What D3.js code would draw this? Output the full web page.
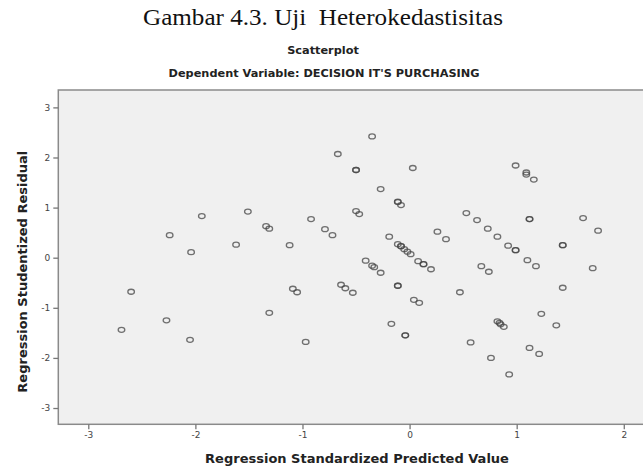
<!DOCTYPE html>
<html>
<head>
<meta charset="utf-8">
<script src="https://cdn.jsdelivr.net/npm/d3@7"></script>
<style>
  html, body { margin: 0; padding: 0; background: #ffffff; }
  svg { display: block; }
</style>
</head>
<body>
<script>
// ---- data ----
const predictedValues = [
  -2.69, -2.60, -2.27, -2.24, -2.05, -2.04, -1.94, -1.62, -1.51,
  -1.34, -1.31, -1.31, -1.12, -1.09, -1.05, -0.97, -0.92, -0.79, -0.72,
  -0.67, -0.64, -0.60, -0.53, -0.50, -0.50, -0.50, -0.47, -0.41, -0.35,
  -0.35, -0.33, -0.27, -0.27, -0.19, -0.17, -0.11, -0.11, -0.08,
  -0.11, -0.08, -0.08, -0.05, -0.02, 0.01, -0.11, -0.11, -0.04, -0.04,
  0.03, 0.04, 0.08, 0.09, 0.13, 0.13, 0.20, 0.26, 0.34,
  0.47, 0.53, 0.57, 0.63, 0.67, 0.73, 0.74, 0.76, 0.82, 0.84, 0.85, 0.88,
  0.82, 0.92, 0.93, 0.99, 0.99, 0.99, 1.09, 1.09, 1.10, 1.12, 1.12,
  1.12, 1.16, 1.18, 1.21, 1.23, 1.37, 1.43, 1.43, 1.43, 1.62, 1.71, 1.76
];
const residualValues = [
  -1.44, -0.68, -1.25, 0.45, -1.64, 0.11, 0.83, 0.26, 0.92,
  0.63, 0.58, -1.10, 0.25, -0.62, -0.69, -1.68, 0.77, 0.57, 0.45,
  2.07, -0.54, -0.61, -0.70, 1.75, 1.75, 0.93, 0.87, -0.06, 2.42,
  -0.16, -0.19, -0.30, 1.37, 0.42, -1.32, 1.11, 1.12, 1.05,
  0.27, 0.23, 0.23, 0.17, 0.12, 0.07, -0.56, -0.56, -1.55, -1.55,
  1.79, -0.84, -0.07, -0.90, -0.13, -0.13, -0.23, 0.52, 0.37,
  -0.69, 0.89, -1.69, 0.75, -0.17, 0.58, -0.28, -2.00, -1.27, -1.30, -1.33, -1.38,
  0.42, 0.24, -2.33, 0.15, 0.15, 1.84, 1.70, 1.66, -0.05, 0.77, 0.77,
  -1.80, 1.56, -0.17, -1.92, -1.12, -1.35, 0.25, 0.25, -0.60, 0.79, -0.21, 0.54
];
const xTickValues = [-3, -2, -1, 0, 1, 2];
const yTickValues = [-3, -2, -1, 0, 1, 2, 3];

const pageTitle = "Gambar 4.3. Uji  Heterokedastisitas";
const chartTitle = "Scatterplot";
const chartSubtitle = "Dependent Variable: DECISION IT'S PURCHASING";
const xAxisTitle = "Regression Standardized Predicted Value";
const yAxisTitle = "Regression Studentized Residual";

// ---- layout ----
const W = 643, H = 467;
const plot = { left: 58.3, right: 645.2, top: 90, bottom: 424.3 };

const svg = d3.select("body").append("svg")
  .attr("width", W).attr("height", H);

const x = d3.scaleLinear().domain([-3.28, 2.2]).range([plot.left, plot.right]);
const y = d3.scaleLinear().domain([-3.325, 3.347]).range([plot.bottom, plot.top]);

// titles
svg.append("text")
  .attr("x", 323).attr("y", 25)
  .attr("text-anchor", "middle")
  .attr("font-family", "'Liberation Serif', 'Times New Roman', serif")
  .attr("font-size", 23)
  .attr("fill", "#111")
  .style("white-space", "pre")
  .attr("textLength", 360).attr("lengthAdjust", "spacingAndGlyphs")
  .text(pageTitle);

svg.append("text")
  .attr("x", 323).attr("y", 54)
  .attr("text-anchor", "middle")
  .attr("font-family", "'DejaVu Sans', sans-serif")
  .attr("font-weight", "bold")
  .attr("font-size", 11.3)
  .attr("fill", "#222")
  .text(chartTitle);

svg.append("text")
  .attr("x", 324).attr("y", 77)
  .attr("text-anchor", "middle")
  .attr("font-family", "'DejaVu Sans', sans-serif")
  .attr("font-weight", "bold")
  .attr("font-size", 11.3)
  .attr("fill", "#222")
  .text(chartSubtitle);

// plot background + frame
svg.append("rect")
  .attr("x", plot.left).attr("y", plot.top)
  .attr("width", plot.right - plot.left).attr("height", plot.bottom - plot.top)
  .attr("fill", "#f0f0f0")
  .attr("stroke", "#8a8a8a").attr("stroke-width", 1.5);

// axes
const xAxis = d3.axisBottom(x).tickValues(xTickValues).tickSize(5).tickSizeOuter(0)
  .tickFormat(d3.format("d"));
const gx = svg.append("g").attr("transform", `translate(0,${plot.bottom})`).call(xAxis);
gx.select(".domain").remove();
gx.selectAll(".tick line").attr("stroke", "#777").attr("stroke-width", 1.3);
gx.selectAll(".tick text")
  .attr("fill", "#444").attr("font-size", 9)
  .attr("font-family", "'DejaVu Sans', sans-serif")
  .attr("dy", "0.5em").attr("y", 9)
  .text(d => d < 0 ? "-" + Math.abs(d) : String(d));

const yAxis = d3.axisLeft(y).tickValues(yTickValues).tickSize(5).tickSizeOuter(0)
  .tickFormat(d3.format("d"));
const gy = svg.append("g").attr("transform", `translate(${plot.left},0)`).call(yAxis);
gy.select(".domain").remove();
gy.selectAll(".tick line").attr("stroke", "#777").attr("stroke-width", 1.3);
gy.selectAll(".tick text")
  .attr("fill", "#444").attr("font-size", 9)
  .attr("font-family", "'DejaVu Sans', sans-serif")
  .attr("x", -8)
  .text(d => d < 0 ? "-" + Math.abs(d) : String(d));

// axis titles
svg.append("text")
  .attr("x", 357).attr("y", 462.5)
  .attr("text-anchor", "middle")
  .attr("font-family", "'DejaVu Sans', sans-serif")
  .attr("font-weight", "bold")
  .attr("font-size", 13)
  .attr("fill", "#222")
  .text(xAxisTitle);

svg.append("text")
  .attr("transform", "translate(27,271.7) rotate(-90)")
  .attr("text-anchor", "middle")
  .attr("font-family", "'DejaVu Sans', sans-serif")
  .attr("font-weight", "bold")
  .attr("font-size", 13)
  .attr("fill", "#222")
  .text(yAxisTitle);

// points
const points = predictedValues.map((v, i) => ({ x: v, y: residualValues[i] }));
svg.append("g").selectAll("ellipse")
  .data(points).enter().append("ellipse")
  .attr("cx", d => x(d.x))
  .attr("cy", d => y(d.y))
  .attr("rx", 3.3).attr("ry", 2.5)
  .attr("fill", "none")
  .attr("stroke", "#444")
  .attr("stroke-opacity", 0.75)
  .attr("stroke-width", 1.3);
</script>
</body>
</html>
